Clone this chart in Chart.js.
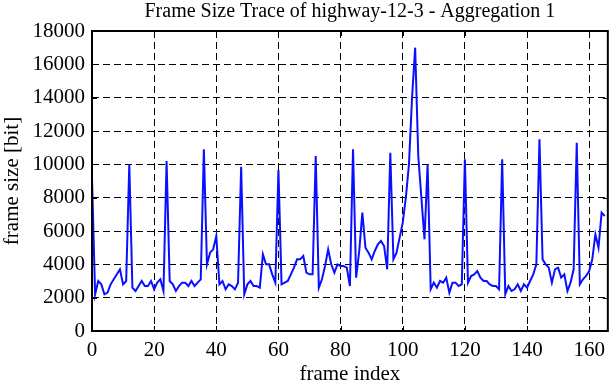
<!DOCTYPE html>
<html>
<head>
<meta charset="utf-8">
<script src="https://cdn.jsdelivr.net/npm/chart.js@4"></script>
<style>
  html, body { margin: 0; padding: 0; background: #fff; }
  #wrap { width: 612px; height: 382px; }
</style>
</head>
<body>
<div id="wrap"><canvas id="trace" width="612" height="382"></canvas></div>
<script>
// frame sizes in bit, one per frame
const frameSizes = [
  9200, 2200, 3000, 2800, 2200, 2300, 2800, 3100, 3400, 3700,
  2800, 3000, 10000, 2600, 2400, 2700, 3000, 2700, 2700, 3000,
  2500, 2900, 3100, 2400, 10200, 3000, 2800, 2400, 2700, 2900,
  2900, 2700, 3000, 2700, 2900, 3100, 10900, 4000, 4700, 4900,
  5700, 2800, 3000, 2500, 2800, 2700, 2500, 2900, 9860, 2200,
  2800, 3000, 2700, 2700, 2600, 4600, 4000, 4000, 3400, 2900,
  9660, 2800, 2900, 3000, 3400, 3800, 4300, 4300, 4500, 3500,
  3400, 3400, 10500, 2600, 3100, 3900, 4900, 4000, 3500, 4000,
  3900, 3900, 3800, 2700, 10900, 3200, 4800, 7100, 5000, 4700,
  4300, 4800, 5200, 5400, 5100, 3700, 10700, 4300, 4700, 5600,
  6500, 8000, 10000, 14000, 17000, 10500, 8000, 5500, 10000, 2500,
  2900, 2600, 3000, 2900, 3200, 2300, 2900, 2900, 2700, 2800,
  10300, 2900, 3300, 3400, 3600, 3200, 3000, 3000, 2800, 2700,
  2700, 2500, 10300, 2200, 2700, 2400, 2500, 2800, 2400, 2800,
  2600, 3000, 3400, 4000, 11500, 4300, 4000, 3800, 2900, 3700,
  3800, 3200, 3400, 2400, 2900, 3700, 11300, 2800, 3100, 3300,
  3600, 4300, 5800, 5000, 7100, 6900
];
const frameIndex = frameSizes.map((v, i) => i);
const xTicks = [0, 20, 40, 60, 80, 100, 120, 140, 160];
const yTicks = [0, 2000, 4000, 6000, 8000, 10000, 12000, 14000, 16000, 18000];
const chartTitle = 'Frame Size Trace of highway-12-3 - Aggregation 1';

const serif = 'Liberation Serif, Times New Roman, serif';

// frame round the plot, small inward tick marks, and the title centred over the plot
const frameBox = {
  id: 'frameBox',
  afterDraw(chart) {
    const { ctx, chartArea: a, scales } = chart;
    const len = 5;
    ctx.save();
    ctx.strokeStyle = '#000';
    ctx.lineWidth = 1;
    xTicks.forEach(v => {
      const px = Math.round(scales.x.getPixelForValue(v)) + 0.5;
      ctx.beginPath();
      ctx.moveTo(px, a.bottom); ctx.lineTo(px, a.bottom - len);
      ctx.moveTo(px, a.top); ctx.lineTo(px, a.top + len);
      ctx.stroke();
    });
    yTicks.forEach(v => {
      const py = Math.round(scales.y.getPixelForValue(v)) + 0.5;
      ctx.beginPath();
      ctx.moveTo(a.left, py); ctx.lineTo(a.left + len, py);
      ctx.moveTo(a.right, py); ctx.lineTo(a.right - len, py);
      ctx.stroke();
    });
    ctx.lineWidth = 2;
    ctx.strokeRect(a.left, a.top, a.right - a.left, a.bottom - a.top);

    ctx.fillStyle = '#000';
    ctx.font = '20px ' + serif;
    ctx.textAlign = 'center';
    ctx.textBaseline = 'middle';
    ctx.fillText(chartTitle, (a.left + a.right) / 2, 12);
    ctx.restore();
  }
};

new Chart(document.getElementById('trace'), {
  type: 'line',
  data: {
    labels: frameIndex,
    datasets: [{
      data: frameIndex.map(i => ({ x: i, y: frameSizes[i] })),
      borderColor: '#0a10ff',
      borderWidth: 2,
      pointRadius: 0,
      tension: 0,
      fill: false
    }]
  },
  options: {
    responsive: false,
    animation: false,
    layout: { padding: { top: 31, right: 2, left: 0, bottom: 0 } },
    plugins: {
      legend: { display: false },
      tooltip: { enabled: false },
      title: { display: false }
    },
    scales: {
      x: {
        type: 'linear',
        min: 0,
        max: 166,
        afterBuildTicks: s => { s.ticks = xTicks.map(v => ({ value: v })); },
        afterFit: s => { s.height = 51; },
        ticks: {
          color: '#000',
          font: { family: serif, size: 21 },
          padding: 7,
          maxRotation: 0,
          callback: v => String(v)
        },
        grid: { color: '#000', lineWidth: 1, drawTicks: false },
        border: { display: false, dash: [7, 4] },
        title: {
          display: true,
          text: 'frame index',
          color: '#000',
          font: { family: serif, size: 21 },
          padding: { top: 0, bottom: -5 }
        }
      },
      y: {
        min: 0,
        max: 18000,
        afterBuildTicks: s => { s.ticks = yTicks.map(v => ({ value: v })); },
        afterFit: s => { s.width = 92; },
        ticks: {
          color: '#000',
          font: { family: serif, size: 21 },
          padding: 7,
          callback: v => String(v)
        },
        grid: { color: '#000', lineWidth: 1, drawTicks: false },
        border: { display: false, dash: [7, 4] },
        title: {
          display: true,
          text: 'frame size [bit]',
          color: '#000',
          font: { family: serif, size: 21 },
          padding: { top: 0, bottom: 0 }
        }
      }
    }
  },
  plugins: [frameBox]
});
</script>
</body>
</html>
